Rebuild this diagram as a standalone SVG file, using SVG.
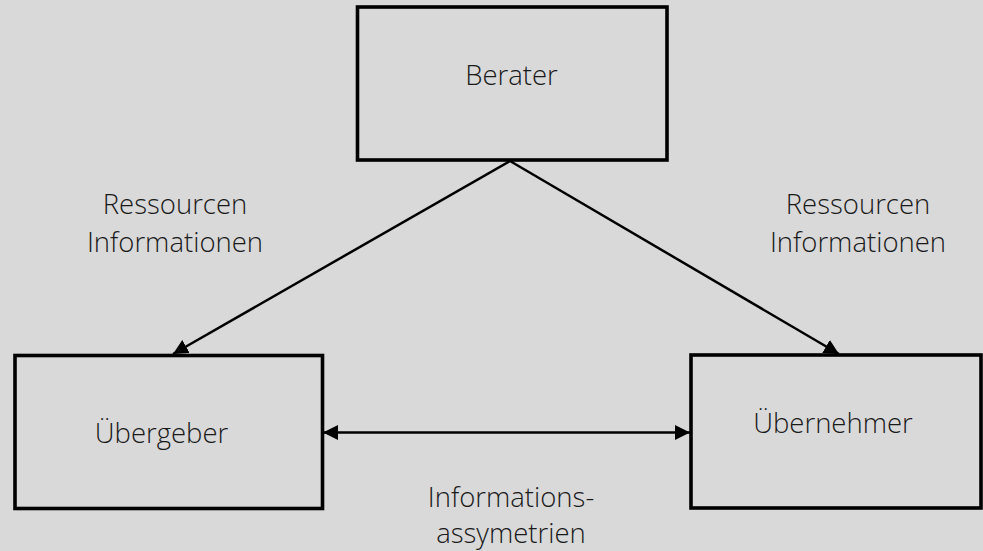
<svg xmlns="http://www.w3.org/2000/svg" width="983" height="551" viewBox="0 0 983 551">
<defs>
<style>
.box{fill:#d9d9d9;stroke:#000;stroke-width:3.6}
.t{font-family:"Open Sans","Liberation Sans",sans-serif;font-weight:300;font-size:27.5px;fill:#1a1a1a;text-anchor:middle}
.c{stroke:#000;stroke-width:2.5;fill:none}
</style>
<marker id="ah" viewBox="0 0 10 10" refX="10" refY="5" markerWidth="6" markerHeight="6" markerUnits="strokeWidth" orient="auto-start-reverse">
<path d="M0,0 L10,5 L0,10 z" fill="#000"/>
</marker>
</defs>
<rect width="983" height="551" fill="#d9d9d9"/>
<g id="berater"><rect class="box" x="357.5" y="7" width="309.5" height="153"/><text class="t" x="511.5" y="85">Berater</text></g>
<g id="uebergeber"><rect class="box" x="15" y="355.5" width="307.5" height="153"/><text class="t" x="161.5" y="443">Übergeber</text></g>
<g id="uebernehmer"><rect class="box" x="691" y="355" width="290" height="153"/><text class="t" x="833" y="433">Übernehmer</text></g>
<g id="connectors">
<line class="c" x1="510" y1="161" x2="173" y2="354" marker-end="url(#ah)"/>
<line class="c" x1="510" y1="161" x2="839" y2="354" marker-end="url(#ah)"/>
<line class="c" x1="323" y1="432.5" x2="690" y2="432.5" marker-start="url(#ah)" marker-end="url(#ah)"/>
</g>
<g id="labels">
<text class="t" x="175" y="214">Ressourcen</text>
<text class="t" x="175" y="252">Informationen</text>
<text class="t" x="858" y="214">Ressourcen</text>
<text class="t" x="858" y="252">Informationen</text>
<text class="t" x="511" y="507">Informations-</text>
<text class="t" x="511" y="543">assymetrien</text>
</g>
</svg>
